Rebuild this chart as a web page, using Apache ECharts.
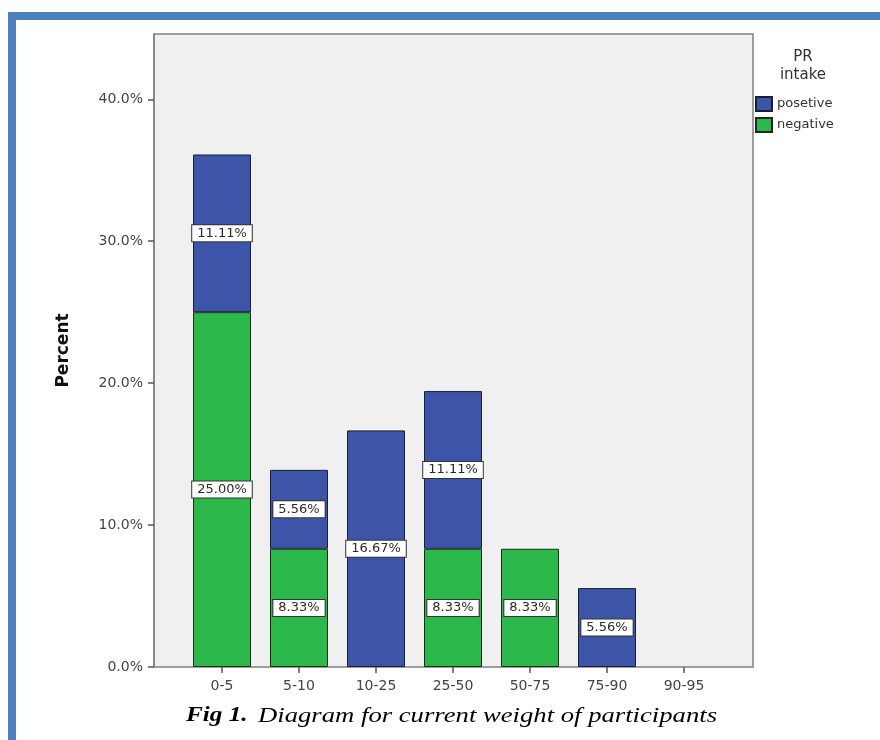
<!DOCTYPE html>
<html>
<head>
<meta charset="utf-8">
<script src="https://cdn.jsdelivr.net/npm/echarts@6/dist/echarts.min.js"></script>
<style>
html,body{margin:0;padding:0;background:#fff;}
#chart{width:880px;height:740px;}
</style>
</head>
<body>
<div id="chart"></div>
<script>
const categories = ['0-5','5-10','10-25','25-50','50-75','75-90','90-95'];
const negativeValues = [25.00, 8.33, null, 8.33, 8.33, null, null];
const posetiveValues = [11.11, 5.56, 16.67, 11.11, null, 5.56, null];
const yTicks = [0, 10, 20, 30, 40];
const yMax = 44.6;

const FONT = 'DejaVu Sans';
const labelStyle = {
  show: true,
  position: 'inside',
  formatter: p => p.value.toFixed(2) + '%',
  color: '#2a2a2a',
  fontFamily: FONT,
  fontSize: 13,
  backgroundColor: '#fff',
  borderColor: '#333',
  borderWidth: 1,
  padding: [2, 5, 1, 5]
};

const chart = echarts.init(document.getElementById('chart'), null, {renderer: 'canvas'});
chart.setOption({
  animation: false,
  backgroundColor: '#fff',
  graphic: [
    {type: 'rect', shape: {x: 8, y: 12, width: 872, height: 8}, style: {fill: '#4e80bd'}, z: 100},
    {type: 'rect', shape: {x: 8, y: 12, width: 8, height: 728}, style: {fill: '#4e80bd'}, z: 100},
    {
      type: 'text', x: 186, y: 716, scaleX: 1.2,
      style: {text: 'Fig 1.', font: 'italic bold 21px "Liberation Serif"', fill: '#000', align: 'left', verticalAlign: 'middle'}
    },
    {
      type: 'text', x: 258, y: 716, scaleX: 1.27,
      style: {text: 'Diagram for current weight of participants', font: 'italic 21px "Liberation Serif"', fill: '#000', align: 'left', verticalAlign: 'middle'}
    }
  ],
  title: [
    {
      text: 'PR\nintake',
      left: 798, top: 43, textAlign: 'center',
      textStyle: {fontFamily: FONT, fontSize: 15, fontWeight: 'normal', color: '#333', lineHeight: 18}
    }
  ],
  legend: {
    data: ['posetive', 'negative'],
    orient: 'vertical',
    left: 755, top: 96, padding: 0,
    itemWidth: 16, itemHeight: 14, itemGap: 5,
    icon: 'rect',
    textStyle: {fontFamily: FONT, fontSize: 13, color: '#333'},
    selectedMode: false
  },
  grid: [
    {left: 154, top: 34, width: 599, height: 633, show: true, backgroundColor: '#f0f0f0', borderColor: '#808080', borderWidth: 1.5, containLabel: false},
    {left: 183.5, top: 34, width: 539, height: 633, containLabel: false}
  ],
  xAxis: [
    {type: 'value', gridIndex: 0, show: false, min: 0, max: 1},
    {
      type: 'category', gridIndex: 1, data: categories,
      axisLine: {show: false},
      axisTick: {show: true, alignWithLabel: true, length: 6, lineStyle: {color: '#555', width: 1.5}},
      axisLabel: {fontFamily: FONT, fontSize: 14, color: '#444', margin: 12}
    }
  ],
  yAxis: [
    {
      type: 'value', gridIndex: 0, min: 0, max: yMax,
      name: 'Percent', nameLocation: 'middle', nameRotate: 90, nameGap: 82,
      nameTextStyle: {fontFamily: FONT, fontSize: 17, fontWeight: 'bold', color: '#111'},
      axisLine: {show: true, lineStyle: {color: '#808080', width: 1.5}},
      axisTick: {show: true, length: 6, customValues: yTicks, lineStyle: {color: '#555', width: 1.5}},
      axisLabel: {customValues: yTicks, formatter: v => v.toFixed(1) + '%', fontFamily: FONT, fontSize: 14, color: '#444', margin: 11},
      splitLine: {show: false}
    },
    {type: 'value', gridIndex: 1, min: 0, max: yMax, show: false, splitLine: {show: false}}
  ],
  series: [
    {
      name: 'negative', type: 'bar', stack: 'total', xAxisIndex: 1, yAxisIndex: 1,
      data: negativeValues, barWidth: 58,
      itemStyle: {color: '#2db84b', borderColor: '#1f2a1f', borderWidth: 1},
      label: labelStyle
    },
    {
      name: 'posetive', type: 'bar', stack: 'total', xAxisIndex: 1, yAxisIndex: 1,
      data: posetiveValues, barWidth: 58,
      itemStyle: {color: '#3c55a8', borderColor: '#1a1f33', borderWidth: 1},
      label: labelStyle
    }
  ]
});
</script>
</body>
</html>
